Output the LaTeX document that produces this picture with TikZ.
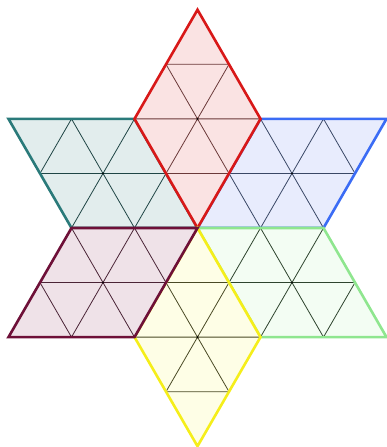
\documentclass[tikz,border=0pt]{standalone}
\usetikzlibrary{calc}
\definecolor{redB}{HTML}{D81818}\definecolor{redF}{HTML}{FAE3E3}\definecolor{redG}{HTML}{6B3A3A}
\definecolor{tealB}{HTML}{2A7A7A}\definecolor{tealF}{HTML}{E2EDED}\definecolor{tealG}{HTML}{1F4545}
\definecolor{blueB}{HTML}{3B6CF5}\definecolor{blueF}{HTML}{E8ECFD}\definecolor{blueG}{HTML}{3A4866}
\definecolor{greenB}{HTML}{8FE68F}\definecolor{greenF}{HTML}{F3FDF3}\definecolor{greenG}{HTML}{2E442E}
\definecolor{yelB}{HTML}{F5EE1A}\definecolor{yelF}{HTML}{FEFEE6}\definecolor{yelG}{HTML}{4A4A25}
\definecolor{marB}{HTML}{6E1038}\definecolor{marF}{HTML}{EFE2E8}\definecolor{marG}{HTML}{4A2436}
\tikzset{
  gridline/.style={line width=0.8pt},
  rimline/.style={line width=2.6pt, line join=miter},
}
\newcommand\rhombpiece[5]{%
  \path (C) ++(#1:126) coordinate (A) (C) ++(#2:126) coordinate (B) (A) ++(#2:126) coordinate (O);
  \fill[#3] (C) -- (A) -- (O) -- (B) -- cycle;
  \draw[gridline,#5] ($(C)!.5!(A)$) -- ($(C)!.5!(B)$) (A) -- (B) ($(A)!.5!(O)$) -- ($(B)!.5!(O)$)
    ($(C)!.5!(A)$) -- ($(B)!.5!(O)$) ($(C)!.5!(B)$) -- ($(A)!.5!(O)$);
  \fill[black] ($(C)!.5!(O)$) circle (0.9);
  \draw[rimline,#4] (C) -- (A) -- (O) -- (B) -- cycle;
}
\begin{document}
\begin{tikzpicture}[x=1pt,y=1pt]
\useasboundingbox (0,0) rectangle (386,447);
\coordinate (C) at (197.5,219);
\rhombpiece{180}{120}{tealF}{tealB}{tealG}
\rhombpiece{60}{0}{blueF}{blueB}{blueG}
\rhombpiece{120}{60}{redF}{redB}{redG}
\rhombpiece{0}{-60}{greenF}{greenB}{greenG}
\rhombpiece{-60}{-120}{yelF}{yelB}{yelG}
\rhombpiece{-120}{180}{marF}{marB}{marG}
\end{tikzpicture}
\end{document}
